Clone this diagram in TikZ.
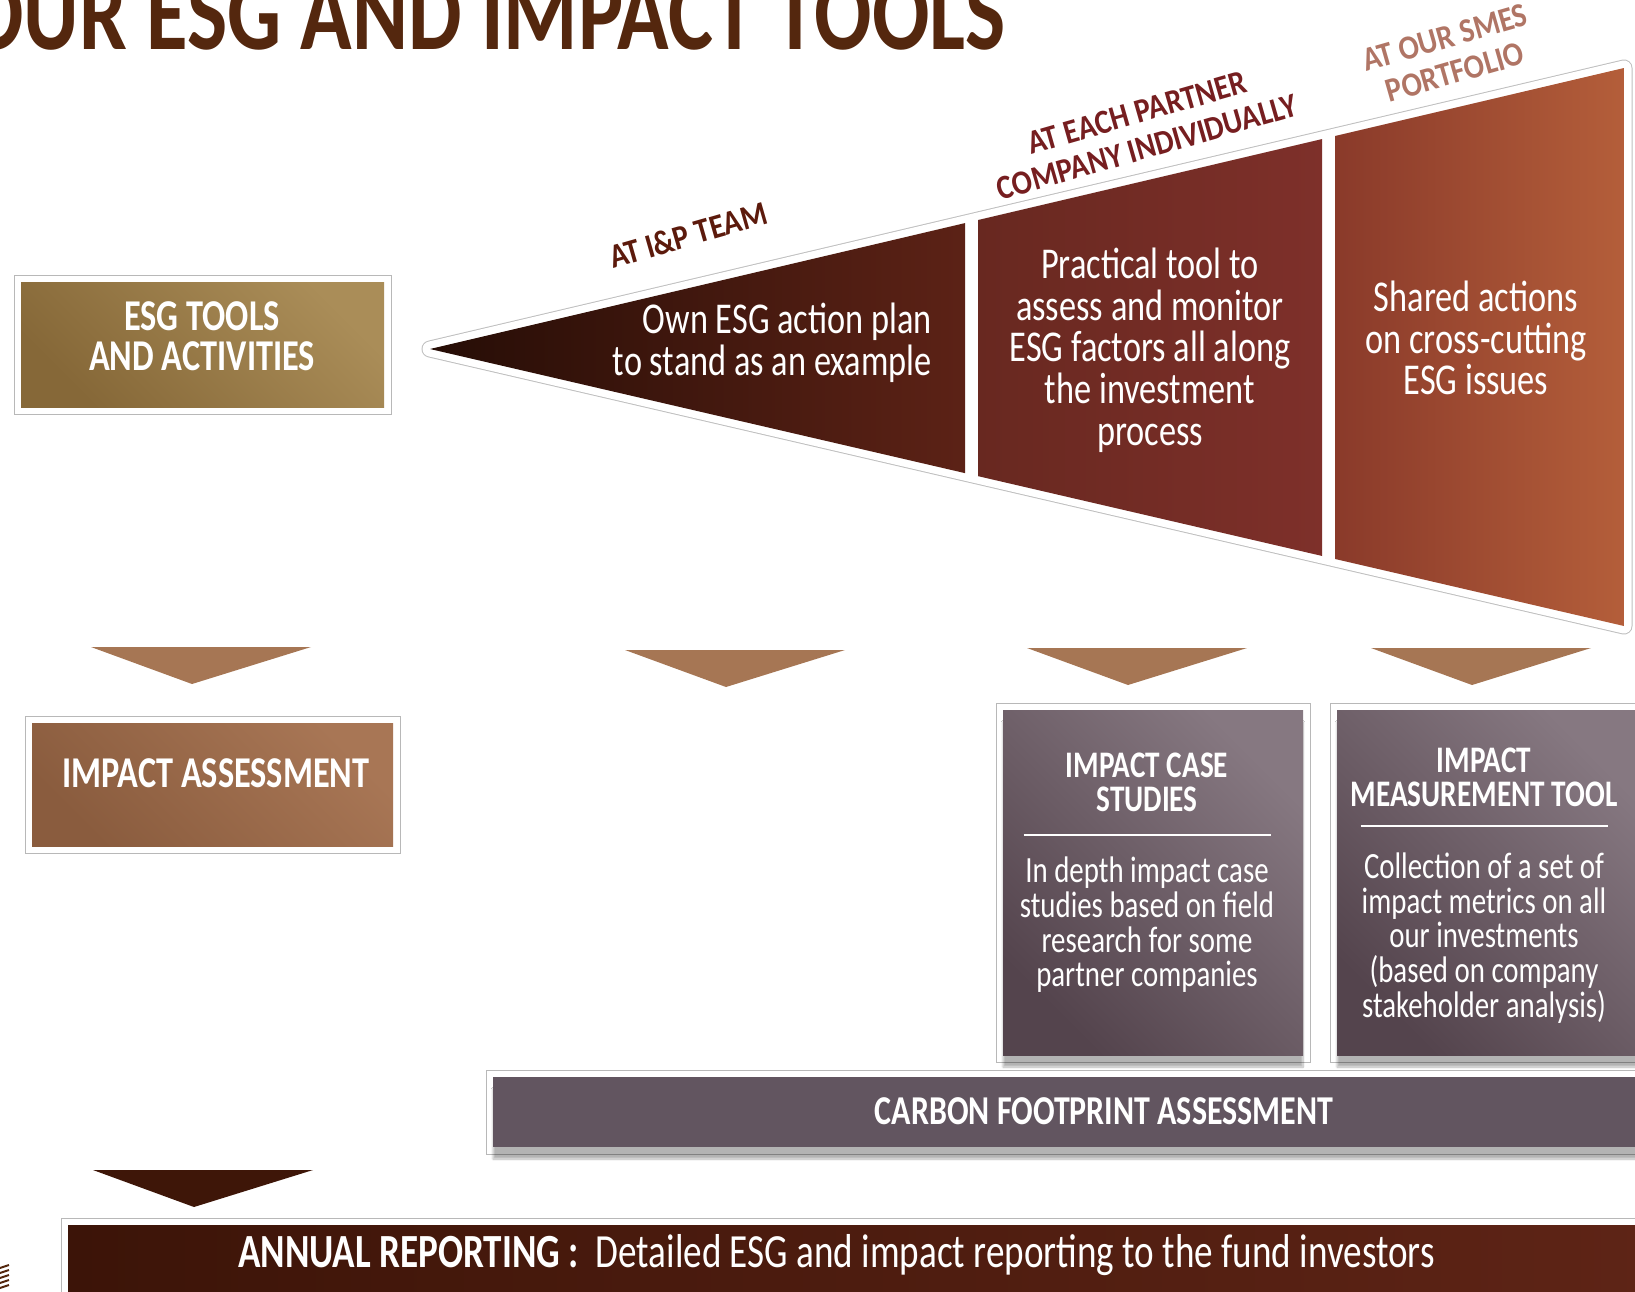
\documentclass[tikz,border=0pt]{standalone}
\usepackage{fontspec}
\setmainfont{Carlito}
\newfontfamily\condfont[FakeStretch=0.78]{Carlito}
\newfontfamily\tagfont[FakeStretch=0.88]{Carlito}
\usetikzlibrary{shadows.blur}
\definecolor{titleBrown}{RGB}{84,39,14}
\definecolor{tagDark}{RGB}{92,26,12}
\definecolor{tagRed}{RGB}{118,30,32}
\definecolor{tagRose}{RGB}{176,117,101}
\definecolor{goldDark}{RGB}{134,104,56}
\definecolor{goldLight}{RGB}{170,141,88}
\definecolor{copperDark}{RGB}{138,92,62}
\definecolor{copperLight}{RGB}{168,118,85}
\definecolor{plumDark}{RGB}{84,68,77}
\definecolor{plumLight}{RGB}{134,120,129}
\definecolor{plumFlat}{RGB}{98,85,96}
\definecolor{arrowCopper}{RGB}{166,118,84}
\definecolor{arrowDark}{RGB}{62,22,8}
\definecolor{barDark}{RGB}{60,20,8}
\definecolor{barLight}{RGB}{94,36,22}
\definecolor{fnA}{RGB}{38,13,6}
\definecolor{fnB}{RGB}{92,34,22}
\definecolor{fnC}{RGB}{104,40,32}
\definecolor{fnD}{RGB}{126,48,42}
\definecolor{fnE}{RGB}{138,58,42}
\definecolor{fnF}{RGB}{180,94,58}

\begin{document}
\begin{tikzpicture}[x=1pt,y=-1pt,
    every node/.style={inner sep=0pt},
    frame/.style={preaction={draw=black!28,line width=15pt},preaction={draw=white,line width=13pt}},
    tool/.style={frame,shading angle=-45},
    soft/.style={blur shadow={shadow xshift=0pt,shadow yshift=-12pt,shadow opacity=30,shadow blur steps=10}},
    boxtitle/.style={align=center,text=white,font=\condfont\bfseries\fontsize{44}{40}\selectfont},
    cardtitle/.style={align=center,text=white,font=\condfont\bfseries\fontsize{37.5}{34}\selectfont},
    cardbody/.style={align=center,text=white,font=\condfont\fontsize{37}{34.7}\selectfont},
    desc/.style={align=center,text=white,font=\condfont\fontsize{44}{41.7}\selectfont},
    tag/.style={rotate=16,align=center,font=\tagfont\bfseries\fontsize{34}{36}\selectfont},
    rule/.style={white,line width=2pt}
  ]
  \useasboundingbox (0,0) rectangle (1635,1291);

  \node[anchor=base east,text=titleBrown,font=\condfont\bfseries\fontsize{109}{109}\selectfont] (title) at (1006,49) {OUR ESG AND IMPACT TOOLS};

  % funnel, split in three bands
  \coordinate (tip) at (430,349);
  \coordinate (ne) at (1624,68);
  \coordinate (se) at (1624,626);
  \fill[black!12] ([yshift=-8pt]tip) -- ([yshift=-8pt]ne) -- ([yshift=-8pt]se) -- cycle;
  \draw[black!25,line width=17pt,line join=round] (tip) -- (ne) -- (se) -- cycle;
  \filldraw[white,line width=15pt,line join=round] (tip) -- (ne) -- (se) -- cycle;
  \begin{scope}
    \clip (tip) -- (ne) -- (se) -- cycle;
    \foreach \xa/\xb/\ca/\cb in {430/965/fnA/fnB,978/1322/fnC/fnD,1335/1624/fnE/fnF}
      \shade[left color=\ca,right color=\cb] (\xa,0) rectangle (\xb,700);
  \end{scope}

  \node[tag,text=tagDark] (tagTeam) at (688,235) {AT I\&P TEAM};
  \node[tag,text=tagRed] (tagFirm) at (1142,130) {AT EACH PARTNER\\COMPANY INDIVIDUALLY};
  \node[tag,text=tagRose] (tagSme) at (1450,55) {AT OUR SMES\\PORTFOLIO};

  \node[desc,anchor=east,align=right] (ownT) at (932,343) {Own ESG action plan\\to stand as an example};
  \node[desc] (pracT) at (1150,350) {Practical tool to\\assess and monitor\\ESG factors all along\\the investment\\process};
  \node[desc] (sharedT) at (1476,338) {Shared actions\\on cross-cutting\\ESG issues};

  % left column
  \node[tool,top color=goldLight,bottom color=goldDark,shading angle=-45,minimum width=363pt,minimum height=125pt] (esg) at (202.5,344.5) {};
  \node[boxtitle] (esgT) at (202,336) {ESG TOOLS\\AND ACTIVITIES};
  \node[tool,top color=copperLight,bottom color=copperDark,shading angle=-45,minimum width=361pt,minimum height=123pt] (ia) at (212.5,784.5) {};
  \node[boxtitle] (iaT) at (216,773) {IMPACT ASSESSMENT};

  % down markers
  \foreach \cx/\cy/\c in {201/647/arrowCopper,735/650/arrowCopper,1137/648/arrowCopper,1481/648/arrowCopper,203/1170/arrowDark}
    \fill[\c] (\cx-110,\cy) -- (\cx+110,\cy) -- (\cx-9,\cy+37) -- cycle;

  % impact cards
  \node[tool,soft,top color=plumLight,bottom color=plumDark,shading angle=-45,minimum width=300pt,minimum height=345pt] (ics) at (1153,882.5) {};
  \node[tool,soft,top color=plumLight,bottom color=plumDark,shading angle=-45,minimum width=308pt,minimum height=345pt] (imt) at (1491,882.5) {};
  \node[cardtitle] (icsT) at (1147,782) {IMPACT CASE\\STUDIES};
  \draw[rule] ([yshift=-23pt]icsT.south) ++(-123.5,0) -- ++(247,0);
  \node[cardbody] (icsB) at (1147,925) {In depth impact case\\studies based on field\\research for some\\partner companies};
  \node[cardtitle] (imtT) at (1484,777) {IMPACT\\MEASUREMENT TOOL};
  \draw[rule] ([yshift=-19pt]imtT.south) ++(-123.5,0) -- ++(247,0);
  \node[cardbody] (imtB) at (1484,938) {Collection of a set of\\impact metrics on all\\our investments\\(based on company\\stakeholder analysis)};

  % bars
  \node[frame,soft,fill=plumFlat,minimum width=1157pt,minimum height=70pt] (carbon) at (1071.5,1112) {};
  \node[anchor=base,text=white,font=\condfont\bfseries\fontsize{41}{41}\selectfont] (carbonT) at (1104,1124) {CARBON FOOTPRINT ASSESSMENT};
  \node[frame,left color=barDark,right color=barLight,minimum width=1582pt,minimum height=95pt] (annual) at (859,1272.5) {};
  \node[anchor=base west,text=white,font=\condfont\fontsize{47.6}{50}\selectfont] (annualT) at (238,1267) {\textbf{ANNUAL REPORTING :}\ \ Detailed ESG and impact reporting to the fund investors};

  % cut-off mark in the corner
  \foreach \k in {0,...,4}
    \draw[titleBrown,line width=2pt] (0,1268+5*\k) -- (9,1265+5*\k);
\end{tikzpicture}
\end{document}
